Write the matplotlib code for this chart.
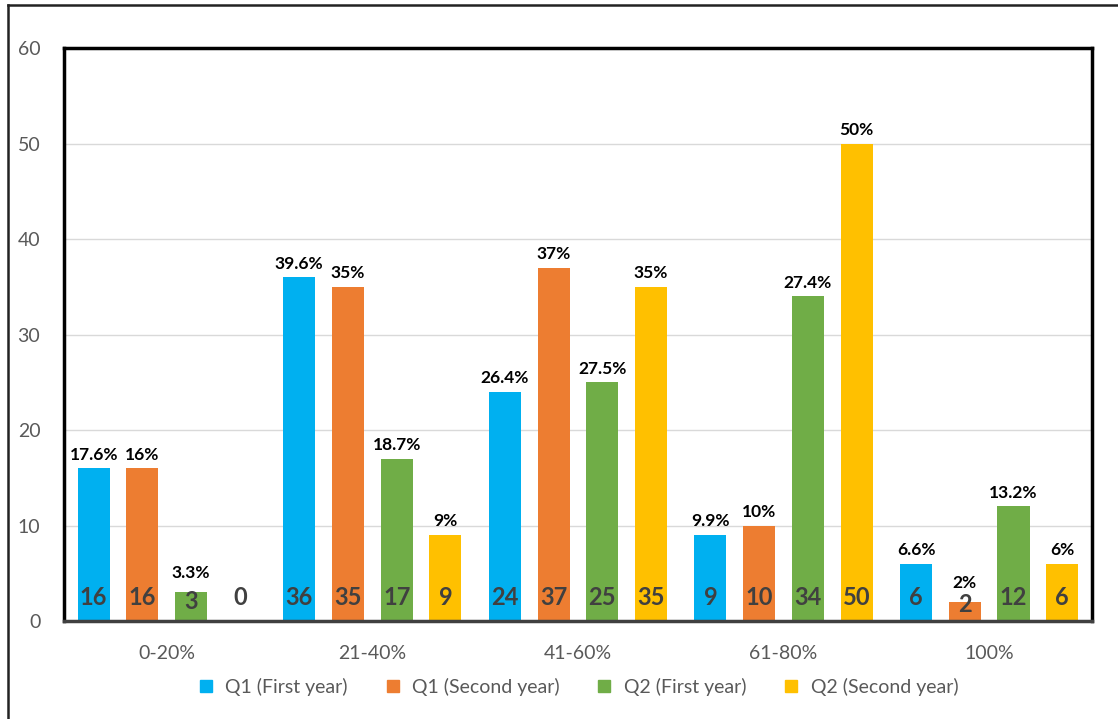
import numpy as np
from matplotlib import pyplot as plt
from matplotlib.lines import Line2D

plt.rcParams['font.family'] = ['Lato', 'DejaVu Sans']

categories = ['0-20%', '21-40%', '41-60%', '61-80%', '100%']
series = ['Q1 (First year)', 'Q1 (Second year)', 'Q2 (First year)', 'Q2 (Second year)']
counts = [
    [16, 36, 24, 9, 6],
    [16, 35, 37, 10, 2],
    [3, 17, 25, 34, 12],
    [0, 9, 35, 50, 6],
]
percents = [
    ['17.6%', '39.6%', '26.4%', '9.9%', '6.6%'],
    ['16%', '35%', '37%', '10%', '2%'],
    ['3.3%', '18.7%', '27.5%', '27.4%', '13.2%'],
    [None, '9%', '35%', '50%', '6%'],
]
colors = ['#00B0F0', '#ED7D31', '#70AD47', '#FFC000']

fig = plt.figure(figsize=(11.18, 7.19), dpi=100)
ax = fig.add_axes([0.0572, 0.1363, 0.9195, 0.7969])

x = np.arange(len(categories))
pitch = 0.237
width = 0.156
for i, s in enumerate(series):
    xs = x + (i - 1.5) * pitch
    ax.bar(xs, counts[i], width, color=colors[i], zorder=2)
    for xi, v, p in zip(xs, counts[i], percents[i]):
        small = 0 < v < 4
        ypos = v * 0.35 + 1.0 if small else 2.5
        ax.text(xi, ypos, str(v), ha='center', va='center', fontsize=17,
                fontweight='bold', color='#404040', zorder=3)
        if p is not None:
            ax.annotate(p, (xi, v), xytext=(0, 8 if small else 4),
                        textcoords='offset points', ha='center', va='bottom',
                        fontsize=12.5, fontweight='bold', color='black')

ax.set_xlim(-0.5, len(categories) - 0.5)
ax.set_ylim(0, 60)
ax.set_yticks(range(0, 61, 10))
ax.set_xticks(x)
ax.set_xticklabels(categories)
ax.tick_params(axis='both', length=0, colors='#595959', labelsize=14)
ax.tick_params(axis='x', pad=17)
ax.tick_params(axis='y', pad=17)
ax.yaxis.grid(True, color='#D9D9D9', linewidth=1, zorder=0)
ax.set_axisbelow(True)
for sp in ax.spines.values():
    sp.set_linewidth(2.5)
    sp.set_color('black')
ax.spines['bottom'].set_color('#404040')

handles = [Line2D([], [], marker='s', linestyle='none', markersize=9,
                  markerfacecolor=c, markeredgecolor=c) for c in colors]
leg = fig.legend(handles, series, loc='center', bbox_to_anchor=(0.512, 0.045),
                 ncol=4, frameon=False, fontsize=14, handletextpad=0.0,
                 columnspacing=1.3)
for t in leg.get_texts():
    t.set_color('#595959')

# outer frame around the picture
fig.add_artist(Line2D([8 / 1118, 1], [1 - 5 / 719, 1 - 5 / 719], color='#222222',
                      linewidth=1.8, transform=fig.transFigure))
fig.add_artist(Line2D([8 / 1118, 8 / 1118], [0, 1 - 5 / 719], color='#222222',
                      linewidth=1.8, transform=fig.transFigure))

fig.savefig('out.png', dpi=100)
